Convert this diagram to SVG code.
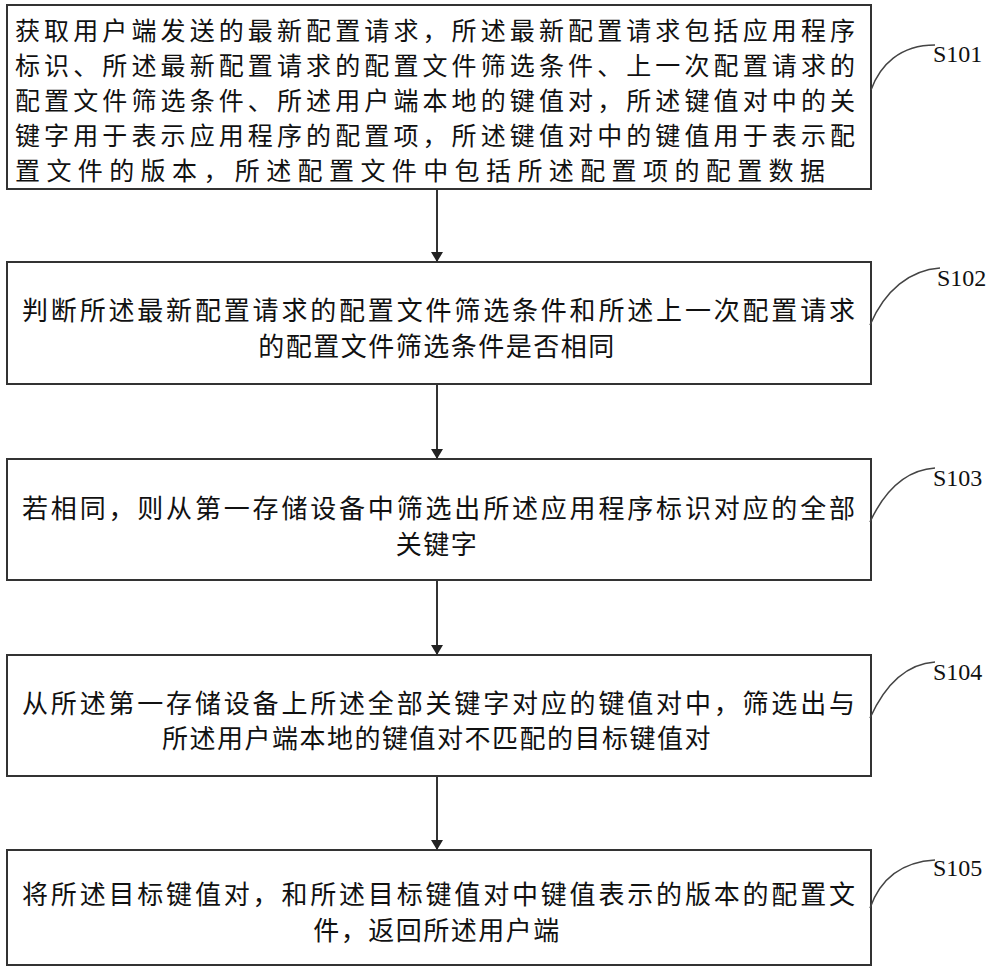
<svg xmlns="http://www.w3.org/2000/svg" width="1000" height="969" viewBox="0 0 1000 969">
<style>
.b{fill:#fff;stroke:#333;stroke-width:2}
.t{font-family:"Noto Sans CJK SC","Noto Sans",sans-serif;font-size:26px;fill:#111}
.s{font-size:25px}
.c{text-anchor:middle;letter-spacing:1.5px}
.l{font-family:"Liberation Serif",serif;font-size:24px;fill:#111}
.cu{fill:none;stroke:#444;stroke-width:1.5}
.a{stroke:#333;stroke-width:2}
</style>
<defs><marker id="ar" markerWidth="10" markerHeight="12" refX="9" refY="6" orient="auto" markerUnits="userSpaceOnUse"><path d="M0,0L10,6L0,12z" fill="#222"/></marker></defs>
<rect width="1000" height="969" fill="#fff"/>
<g id="n1"><rect class="b" x="7" y="5" width="864" height="184"/>
<text class="t s" x="15" y="40" textLength="840">获取用户端发送的最新配置请求，所述最新配置请求包括应用程序</text>
<text class="t s" x="15" y="75" textLength="840">标识、所述最新配置请求的配置文件筛选条件、上一次配置请求的</text>
<text class="t s" x="15" y="110" textLength="840">配置文件筛选条件、所述用户端本地的键值对，所述键值对中的关</text>
<text class="t s" x="15" y="145" textLength="840">键字用于表示应用程序的配置项，所述键值对中的键值用于表示配</text>
<text class="t s" x="15" y="180" textLength="810">置文件的版本，所述配置文件中包括所述配置项的配置数据</text>
<path class="cu" d="M871,90 C880,65 900,45 935,45"/><text class="l" x="933" y="62">S101</text></g>
<g id="n2"><rect class="b" x="7" y="262" width="864" height="122"/>
<text class="t" x="22" y="320" textLength="833">判断所述最新配置请求的配置文件筛选条件和所述上一次配置请求</text>
<text class="t c" x="437" y="356">的配置文件筛选条件是否相同</text>
<path class="cu" d="M870,325 C885,290 910,270 940,268"/><text class="l" x="937" y="286">S102</text></g>
<g id="n3"><rect class="b" x="7" y="459" width="864" height="121"/>
<text class="t" x="22" y="518" textLength="833">若相同，则从第一存储设备中筛选出所述应用程序标识对应的全部</text>
<text class="t c" x="437" y="554">关键字</text>
<path class="cu" d="M870,522 C885,490 905,470 935,468"/><text class="l" x="933" y="486">S103</text></g>
<g id="n4"><rect class="b" x="7" y="655" width="864" height="121"/>
<text class="t" x="22" y="713" textLength="833">从所述第一存储设备上所述全部关键字对应的键值对中，筛选出与</text>
<text class="t c" x="437" y="748">所述用户端本地的键值对不匹配的目标键值对</text>
<path class="cu" d="M870,718 C885,685 905,664 935,662"/><text class="l" x="933" y="680">S104</text></g>
<g id="n5"><rect class="b" x="7" y="850" width="864" height="115"/>
<text class="t" x="22" y="904" textLength="833">将所述目标键值对，和所述目标键值对中键值表示的版本的配置文</text>
<text class="t c" x="437" y="940">件，返回所述用户端</text>
<path class="cu" d="M870,908 C880,880 900,862 935,860"/><text class="l" x="933" y="876">S105</text></g>
<g id="connectors">
<line class="a" x1="437" y1="189" x2="437" y2="261" marker-end="url(#ar)"/>
<line class="a" x1="437" y1="384" x2="437" y2="458" marker-end="url(#ar)"/>
<line class="a" x1="437" y1="580" x2="437" y2="654" marker-end="url(#ar)"/>
<line class="a" x1="437" y1="776" x2="437" y2="849" marker-end="url(#ar)"/>
</g>
</svg>
